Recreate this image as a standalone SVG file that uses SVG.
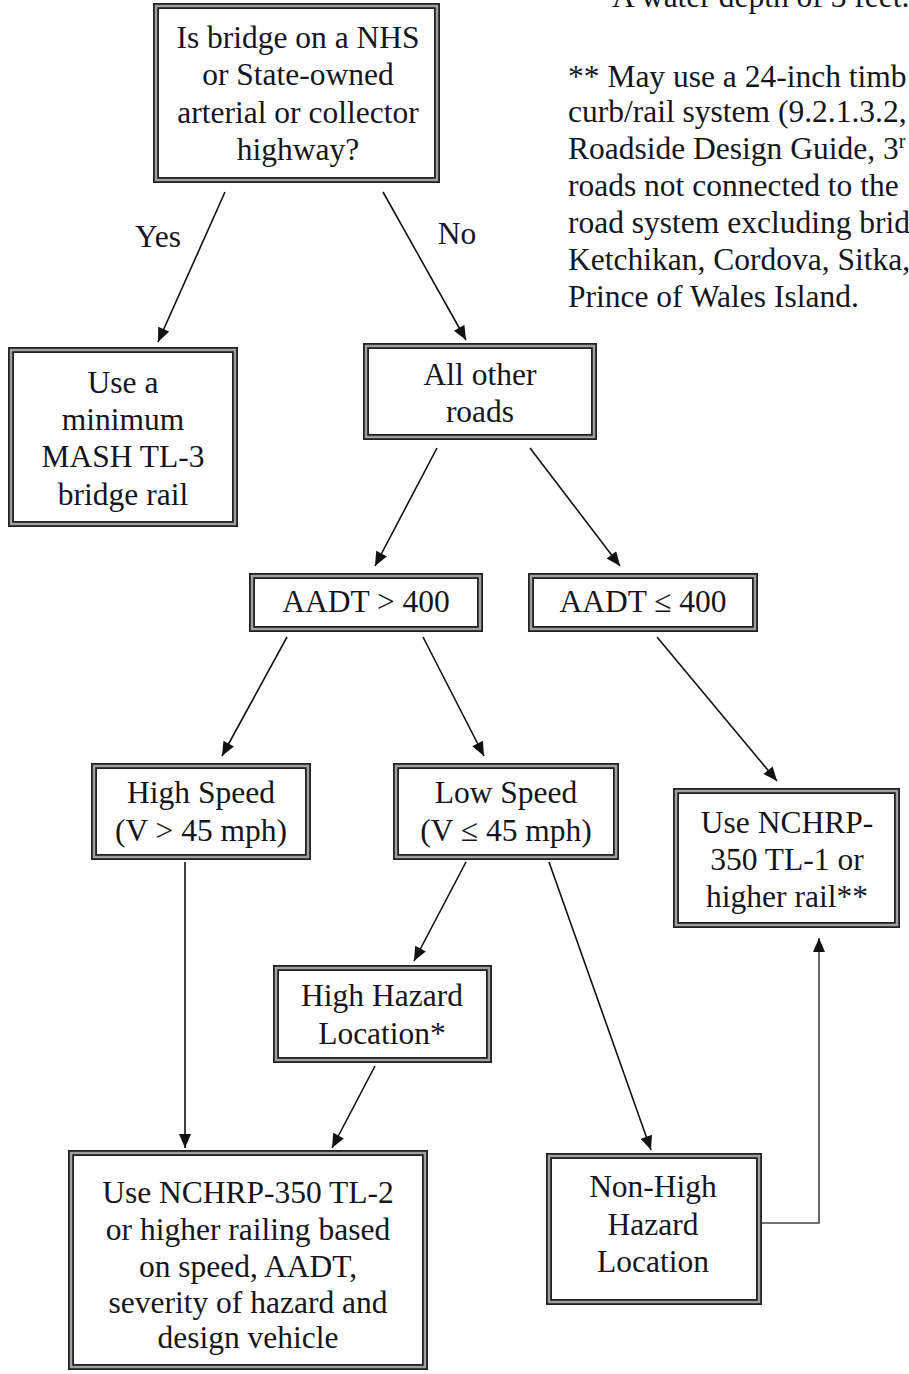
<svg xmlns="http://www.w3.org/2000/svg" width="909" height="1374" viewBox="0 0 909 1374" font-family="'Liberation Serif','Times New Roman',serif">
<defs>
<style>
.o{fill:#fff;stroke:#222;stroke-width:6}
.i{fill:none;stroke:#a0a0a0;stroke-width:2.4}
text{font-family:"Liberation Serif","Times New Roman",serif;font-size:31.5px;fill:#151520}
.c{text-anchor:middle}
.note{font-size:31.5px}
.ln{stroke:#111;stroke-width:1.6;fill:none;marker-end:url(#ah)}
</style>
<marker id="ah" viewBox="0 0 14 12" refX="14" refY="6" markerWidth="15" markerHeight="12" orient="auto" markerUnits="userSpaceOnUse"><path d="M0,0 L14,6 L0,12 z" fill="#111"/></marker>
</defs>
<rect width="909" height="1374" fill="#fff"/>

<g id="notes">
<text class="note" x="612" y="7">A water depth of 3 feet.</text>
<text class="note" x="568" y="87">** May use a 24-inch timb</text>
<text class="note" x="568" y="122">curb/rail system (9.2.1.3.2,</text>
<text class="note" x="568" y="159">Roadside Design Guide, 3<tspan font-size="20" dy="-11">r</tspan></text>
<text class="note" x="568" y="196">roads not connected to the</text>
<text class="note" x="568" y="233">road system excluding brid</text>
<text class="note" x="568" y="270">Ketchikan, Cordova, Sitka,</text>
<text class="note" x="568" y="307">Prince of Wales Island.</text>
</g>

<g id="connectors">
<line class="ln" x1="225" y1="192" x2="158" y2="342"/>
<line class="ln" x1="383" y1="192" x2="466" y2="340"/>
<line class="ln" x1="437" y1="448" x2="375" y2="566"/>
<line class="ln" x1="530" y1="448" x2="620" y2="566"/>
<line class="ln" x1="287" y1="637" x2="222" y2="756"/>
<line class="ln" x1="423" y1="637" x2="484" y2="756"/>
<line class="ln" x1="657" y1="637" x2="777" y2="781"/>
<line class="ln" x1="185" y1="862" x2="185" y2="1148"/>
<line class="ln" x1="466" y1="862" x2="414" y2="961"/>
<line class="ln" x1="549" y1="862" x2="651" y2="1150"/>
<line class="ln" x1="375" y1="1066" x2="332" y2="1148"/>
<polyline class="ln" points="762,1223 819,1223 819,938" style="stroke:#444"/>
<text class="c" x="158" y="247">Yes</text>
<text class="c" x="457" y="244">No</text>
</g>

<g id="n-start">
<rect class="o" x="156" y="6" width="281" height="174"/><rect class="i" x="156" y="6" width="281" height="174"/>
<text class="c" x="298" y="48">Is bridge on a NHS</text>
<text class="c" x="298" y="85">or State-owned</text>
<text class="c" x="298" y="123">arterial or collector</text>
<text class="c" x="298" y="160">highway?</text>
</g>

<g id="n-tl3">
<rect class="o" x="11" y="350" width="224" height="174"/><rect class="i" x="11" y="350" width="224" height="174"/>
<text class="c" x="123" y="393">Use a</text>
<text class="c" x="123" y="430">minimum</text>
<text class="c" x="123" y="467">MASH TL-3</text>
<text class="c" x="123" y="505">bridge rail</text>
</g>

<g id="n-other">
<rect class="o" x="366" y="346" width="228" height="91"/><rect class="i" x="366" y="346" width="228" height="91"/>
<text class="c" x="480" y="385">All other</text>
<text class="c" x="480" y="422">roads</text>
</g>

<g id="n-aadt-hi">
<rect class="o" x="252" y="576" width="228" height="53"/><rect class="i" x="252" y="576" width="228" height="53"/>
<text class="c" x="366" y="612">AADT &gt; 400</text>
</g>

<g id="n-aadt-lo">
<rect class="o" x="531" y="576" width="224" height="53"/><rect class="i" x="531" y="576" width="224" height="53"/>
<text class="c" x="643" y="612">AADT ≤ 400</text>
</g>

<g id="n-highspeed">
<rect class="o" x="94" y="766" width="214" height="91"/><rect class="i" x="94" y="766" width="214" height="91"/>
<text class="c" x="201" y="803">High Speed</text>
<text class="c" x="201" y="841">(V &gt; 45 mph)</text>
</g>

<g id="n-lowspeed">
<rect class="o" x="396" y="766" width="220" height="91"/><rect class="i" x="396" y="766" width="220" height="91"/>
<text class="c" x="506" y="803">Low Speed</text>
<text class="c" x="506" y="841">(V ≤ 45 mph)</text>
</g>

<g id="n-tl1">
<rect class="o" x="676" y="791" width="221" height="134"/><rect class="i" x="676" y="791" width="221" height="134"/>
<text class="c" x="787" y="833">Use NCHRP-</text>
<text class="c" x="787" y="870">350 TL-1 or</text>
<text class="c" x="787" y="907">higher rail**</text>
</g>

<g id="n-highhazard">
<rect class="o" x="276" y="968" width="213" height="92"/><rect class="i" x="276" y="968" width="213" height="92"/>
<text class="c" x="382" y="1006">High Hazard</text>
<text class="c" x="382" y="1044">Location*</text>
</g>

<g id="n-tl2">
<rect class="o" x="71" y="1153" width="354" height="214"/><rect class="i" x="71" y="1153" width="354" height="214"/>
<text class="c" x="248" y="1203">Use NCHRP-350 TL-2</text>
<text class="c" x="248" y="1240">or higher railing based</text>
<text class="c" x="248" y="1277">on speed, AADT,</text>
<text class="c" x="248" y="1313">severity of hazard and</text>
<text class="c" x="248" y="1348">design vehicle</text>
</g>

<g id="n-nonhigh">
<rect class="o" x="549" y="1156" width="210" height="146"/><rect class="i" x="549" y="1156" width="210" height="146"/>
<text class="c" x="653" y="1197">Non-High</text>
<text class="c" x="653" y="1235">Hazard</text>
<text class="c" x="653" y="1272">Location</text>
</g>
</svg>
